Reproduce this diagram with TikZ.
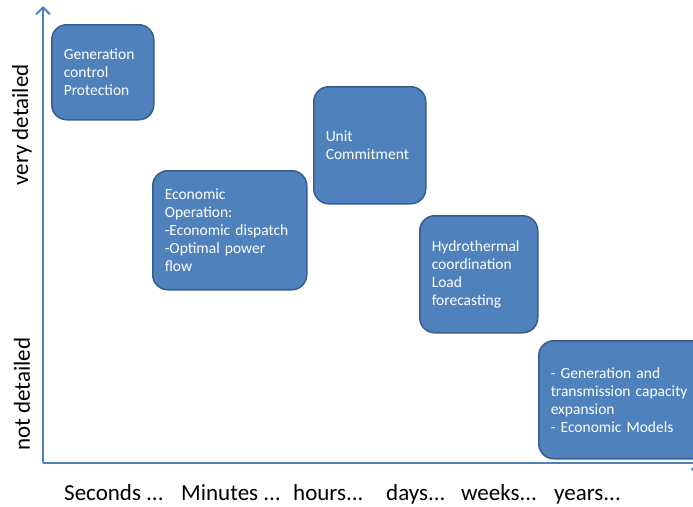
\documentclass[tikz,border=0pt]{standalone}
\usepackage{fontspec}
\setmainfont{Carlito}
\usetikzlibrary{arrows.meta, positioning}
\definecolor{boxBlue}{HTML}{4F81BD}
\definecolor{boxEdge}{HTML}{385D8A}
\tikzstyle{recNode} = [rectangle, anchor=north west, rounded corners=15pt, draw=boxEdge, line width=1.5pt, fill=boxBlue, text=white, align=left, inner xsep=12pt, inner ysep=0pt, font=\fontsize{15.5}{18}\selectfont]
\tikzstyle{axisLine} = [line width=2.8pt, draw=boxBlue, -{Straight Barb[length=7pt,width=14pt,line width=2pt]}]
\tikzstyle{tLabel} = [anchor=base west, inner sep=0pt, font=\fontsize{23}{26}\selectfont]
\tikzstyle{dLabel} = [rotate=90, inner sep=0pt, font=\fontsize{23}{26}\selectfont]

\begin{document}
\begin{tikzpicture}[x=1pt, y=-1pt]
        \useasboundingbox (0,0) rectangle (693,506);
        \coordinate (origin) at (43,463);
        \coordinate (ytop) at (43,6);
        \coordinate (xend) at (700,463);

        \node (gen) [recNode, text width=78pt, minimum width=102pt, minimum height=95pt] at (51,24)
            {Generation\\control\\Protection};
        \node (uc) [recNode, text width=88pt, minimum width=112pt, minimum height=117pt] at (313,86)
            {Unit\\Commitment};
        \node (eco) [recNode, text width=130pt, minimum width=154pt, minimum height=119pt] at (152,170)
            {Economic\\Operation:\\-Economic dispatch\\-Optimal power\\flow};
        \node (hydro) [recNode, text width=94pt, minimum width=118pt, minimum height=117pt] at (419,215)
            {Hydrothermal\\coordination\\Load\\forecasting};
        \node (exp) [recNode, text width=150pt, minimum width=174pt, minimum height=118pt] at (538,340)
            {- Generation and\\transmission capacity\\expansion\\- Economic Models};

        \draw [axisLine] (origin) -- (ytop);
        \draw [axisLine] (origin) -- (xend);

        \node (very) [dLabel] at (22,125) {very detailed};
        \node (notd) [dLabel] at (22,394) {not detailed};

        \node (sec) [tLabel] at (64,500) {Seconds ...};
        \node (min) [tLabel] at (181,500) {Minutes ...};
        \node (hrs) [tLabel] at (293,500) {hours...};
        \node (day) [tLabel] at (386,500) {days...};
        \node (wks) [tLabel] at (461,500) {weeks...};
        \node (yrs) [tLabel] at (554,500) {years...};
    \end{tikzpicture}
\end{document}
